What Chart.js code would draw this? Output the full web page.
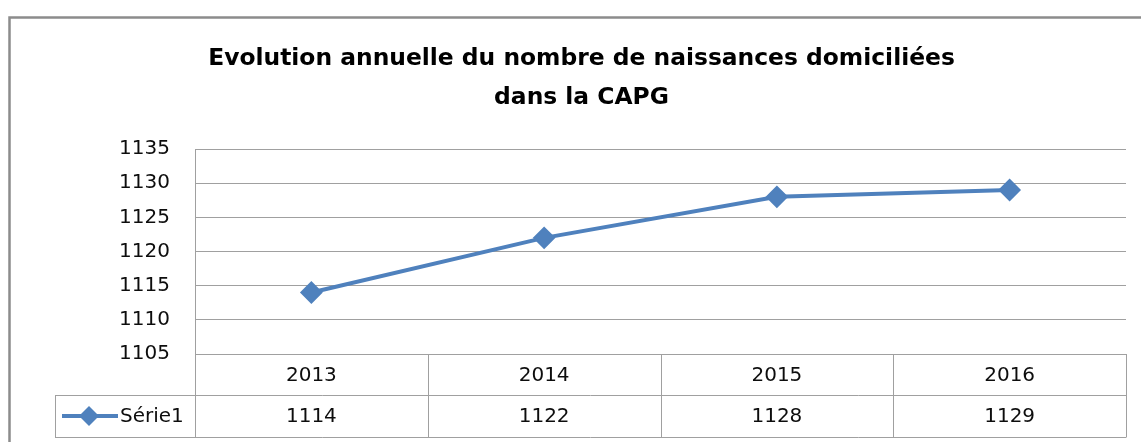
<!DOCTYPE html>
<html>
<head>
<meta charset="utf-8">
<script src="https://cdn.jsdelivr.net/npm/chart.js@4/dist/chart.umd.min.js"></script>
<style>
  html, body { margin: 0; padding: 0; background: #ffffff; }
  #wrap { width: 1141px; height: 442px; position: relative; }
</style>
</head>
<body>
<div id="wrap"><canvas id="c" width="1141" height="442"></canvas></div>
<script>
// ---- data ----
const titleLines = ['Evolution annuelle du nombre de naissances domiciliées', 'dans la CAPG'];
const categories = ['2013', '2014', '2015', '2016'];
const seriesName = 'Série1';
const values = [1114, 1122, 1128, 1129];
const yMin = 1105;
const yMax = 1135;
const yStep = 5;

// ---- styles ----
const blue = '#4f81bd';
const gridGray = '#a0a0a0';
const textFont = 'DejaVu Sans';
const textColor = '#0d0d0d';

const framePlugin = {
  id: 'frame',
  beforeDraw(chart) {
    const ctx = chart.ctx;
    ctx.save();
    ctx.fillStyle = '#ffffff';
    ctx.fillRect(0, 0, chart.width, chart.height);
    ctx.strokeStyle = '#8c8c8c';
    ctx.lineWidth = 2.5;
    ctx.strokeRect(9.5, 17.5, chart.width + 50, chart.height + 50);
    ctx.restore();
  }
};

const tablePlugin = {
  id: 'dataTable',
  afterDraw(chart) {
    const ctx = chart.ctx;
    const area = chart.chartArea;
    const xs = chart.scales.x;
    const n = categories.length;
    const colW = (area.right - area.left) / n;
    const top = area.bottom;
    const mid = top + 41;
    const bot = top + 83;
    const legendLeft = 55;
    ctx.save();
    ctx.strokeStyle = gridGray;
    ctx.lineWidth = 1;
    ctx.beginPath();
    ctx.moveTo(area.left, Math.round(top) + 0.5); ctx.lineTo(area.right, Math.round(top) + 0.5);
    ctx.moveTo(legendLeft, mid + 0.5); ctx.lineTo(area.right, mid + 0.5);
    ctx.moveTo(legendLeft, bot + 0.5); ctx.lineTo(area.right, bot + 0.5);
    for (let i = 0; i <= n; i++) {
      const x = Math.round(area.left + i * colW) + 0.5;
      ctx.moveTo(x, top); ctx.lineTo(x, bot + 0.5);
    }
    ctx.moveTo(legendLeft + 0.5, mid); ctx.lineTo(legendLeft + 0.5, bot + 0.5);
    ctx.stroke();

    ctx.fillStyle = textColor;
    ctx.font = '20px "' + textFont + '"';
    ctx.textAlign = 'center';
    ctx.textBaseline = 'middle';
    categories.forEach((c, i) => {
      const x = xs.getPixelForValue(i);
      ctx.fillText(c, x, (top + mid) / 2 + 1);
      ctx.fillText(String(values[i]), x, (mid + bot) / 2 + 1);
    });

    const ly = (mid + bot) / 2;
    ctx.strokeStyle = blue;
    ctx.lineWidth = 4;
    ctx.beginPath();
    ctx.moveTo(62, ly); ctx.lineTo(118, ly);
    ctx.stroke();
    const cx = 89, r = 10;
    ctx.fillStyle = blue;
    ctx.beginPath();
    ctx.moveTo(cx, ly - r); ctx.lineTo(cx + r, ly); ctx.lineTo(cx, ly + r); ctx.lineTo(cx - r, ly);
    ctx.closePath();
    ctx.fill();
    ctx.fillStyle = textColor;
    ctx.textAlign = 'left';
    ctx.fillText(seriesName, 120, ly + 1);
    ctx.restore();
  }
};

new Chart(document.getElementById('c'), {
  type: 'line',
  data: {
    labels: categories,
    datasets: [{
      label: seriesName,
      data: values,
      borderColor: blue,
      backgroundColor: blue,
      borderWidth: 4,
      pointStyle: 'rectRot',
      pointRadius: 10,
      pointBorderWidth: 2,
      pointBackgroundColor: blue,
      pointBorderColor: blue,
      tension: 0,
      clip: false
    }]
  },
  options: {
    responsive: false,
    animation: false,
    devicePixelRatio: 1,
    layout: { padding: { left: 37, right: 15, top: 0, bottom: 88 } },
    plugins: {
      legend: { display: false },
      tooltip: { enabled: false },
      title: {
        display: true,
        text: titleLines,
        color: '#000000',
        font: { family: textFont, size: 23.4, weight: 'bold', lineHeight: 1.667 },
        padding: { top: 39.5, bottom: 31.5 }
      }
    },
    scales: {
      x: {
        type: 'category',
        offset: true,
        display: false
      },
      y: {
        min: yMin,
        max: yMax,
        ticks: {
          stepSize: yStep,
          color: textColor,
          font: { family: textFont, size: 20 },
          padding: 25,
          callback: (v) => String(v)
        },
        grid: { color: gridGray, lineWidth: 1, drawTicks: false },
        border: { display: true, color: gridGray, width: 1 },
        afterFit(scale) { scale.width = 158; }
      }
    }
  },
  plugins: [framePlugin, tablePlugin]
});
</script>
</body>
</html>
